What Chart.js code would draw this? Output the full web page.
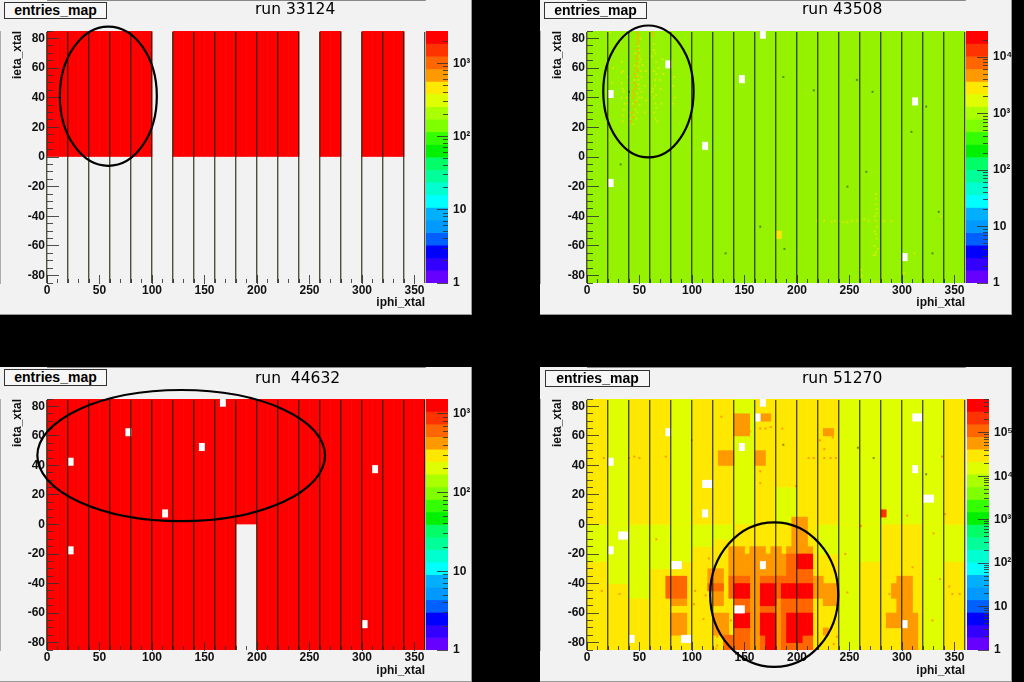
<!DOCTYPE html>
<html>
<head>
<meta charset="utf-8">
<title>entries_map</title>
<script src="https://cdn.jsdelivr.net/npm/chart.js@4/dist/chart.umd.min.js"></script>
<style>
  html, body { margin: 0; background: #000; overflow: hidden; }
  .pad { position: absolute; width: 472px; background: #f2f2f2; box-sizing: border-box; border-right: 1px solid #999; border-bottom: 1px solid #999; }
  .pad canvas { position: absolute; top: 0; }
  .stat { position: absolute; left: 4px; width: 103px; height: 17px; box-sizing: border-box; border: 1px solid #333; background: #f7f7f7;
          font: bold 14px "Liberation Sans", Arial, sans-serif; line-height: 15px; text-align: center; z-index: 3; }
  .runTitle { position: absolute; left: 255px; font: 15.5px "DejaVu Sans", sans-serif; white-space: pre; z-index: 3; }
</style>
</head>
<body>
<div class="pad" style="left:0;top:0;height:315px">
  <canvas id="map33124" width="471" height="314" style="left:0"></canvas>
  <canvas id="pal33124" width="46" height="314" style="left:426px"></canvas>
  <div class="stat" style="top:2px">entries_map</div><div class="runTitle" style="top:0">run 33124</div>
</div>
<div class="pad" style="left:540px;top:0;height:315px">
  <canvas id="map43508" width="471" height="314" style="left:0"></canvas>
  <canvas id="pal43508" width="46" height="314" style="left:426px"></canvas>
  <div class="stat" style="top:2px">entries_map</div><div class="runTitle" style="left:262px;top:0">run 43508</div>
</div>
<div class="pad" style="left:0;top:367px;height:315px">
  <canvas id="map44632" width="471" height="315" style="left:0"></canvas>
  <canvas id="pal44632" width="46" height="315" style="left:426px"></canvas>
  <div class="stat" style="top:2px">entries_map</div><div class="runTitle" style="top:2px">run  44632</div>
</div>
<div class="pad" style="left:540px;top:367px;height:315px">
  <canvas id="map51270" width="471" height="315" style="left:0"></canvas>
  <canvas id="pal51270" width="46" height="315" style="left:427px"></canvas>
  <div class="stat" style="top:3px;left:5px;width:105px">entries_map</div><div class="runTitle" style="left:262px;top:2px">run 51270</div>
</div>
<script>
// axis ticks
const phiTicks = [0, 50, 100, 150, 200, 250, 300, 350];
const phiMinorTicks = [10, 20, 30, 40, 60, 70, 80, 90, 110, 120, 130, 140, 160, 170, 180, 190, 210, 220, 230, 240, 260, 270, 280, 290, 310, 320, 330, 340];
const sectorEdges = [0, 20, 40, 60, 80, 100, 120, 140, 160, 180, 200, 220, 240, 260, 280, 300, 320, 340, 360];
const etaTicks = [-80, -60, -40, -20, 0, 20, 40, 60, 80];
const etaMinorTicks = [-85, -75, -70, -65, -55, -50, -45, -35, -30, -25, -15, -10, -5, 5, 10, 15, 25, 30, 35, 45, 50, 55, 65, 70, 75, 85];
const phiBins = Array.from({ length: 72 }, (_, i) => i * 5);

// colour scale, bottom to top
const paletteColors = ['#6600ff', '#3300ff', '#0000ff', '#0060ff', '#0099ff', '#00b0ff', '#00ffff', '#00ffd0', '#00ff99', '#00ff66',
  '#00f000', '#33ff00', '#80ff00', '#aaff00', '#dfff00', '#ffe800', '#ff9900', '#ff6600', '#ff3300', '#ff0000'];
const zTickValues = [1, 10, 100, 1000, 10000, 100000];
const zTickLabels = ['1', '10', '10²', '10³', '10⁴', '10⁵'];
const zMinorSteps = [2, 3, 4, 5, 6, 7, 8, 9];

// filled areas: [phi from, phi to, eta from, eta to]
const red33124 = [[0, 100, 0, 85], [120, 240, 0, 85], [260, 280, 0, 85], [300, 340, 0, 85]];
const red44632 = [[0, 180, -85, 85], [180, 200, 0, 85], [200, 360, -85, 85]];
const base43508 = [[0, 360, -85, 85]];
const deadTowers = [[20, 25, 40, 45], [75, 80, 60, 65], [165, 170, 80, 85], [145, 150, 50, 55],
  [110, 115, 5, 10], [310, 315, 35, 40], [20, 25, -20, -15], [300, 305, -70, -65]];
const hot43508 = [[180, 185, -55, -50]];

const yellow51270 = [[0, 360, -85, 85]];
const lime51270 = [[20, 40, 0, 85], [80, 100, 0, 85], [140, 160, 0, 85], [240, 340, 0, 85], [180, 200, 0, 25],
  [0, 20, -25, 0], [20, 40, -40, 0], [40, 60, -50, 0], [60, 80, -30, 0], [80, 100, -25, 0], [100, 120, -15, 0], [120, 140, -10, 0],
  [220, 240, -20, 0], [240, 260, -85, 0], [260, 280, -25, 0], [320, 340, -85, 0], [340, 360, -25, 0]];
const orange51270 = [[140, 155, 60, 75], [165, 175, 70, 75], [125, 140, 40, 50], [160, 170, 40, 50], [225, 235, 60, 65],
  [195, 210, -15, 5], [135, 150, -20, -15], [155, 170, -20, -15], [175, 185, -20, -15], [190, 215, -20, -15],
  [135, 200, -35, -20], [155, 165, -85, -35], [180, 185, -85, -35], [215, 225, -50, -35], [225, 240, -55, -40],
  [115, 130, -40, -30], [120, 130, -55, -40], [120, 135, -75, -60], [80, 95, -55, -50], [80, 95, -75, -60],
  [295, 310, -40, -35], [290, 310, -50, -40], [295, 310, -60, -50], [285, 315, -70, -60], [300, 315, -85, -70], [225, 230, -75, -70]];
const darkOrange51270 = [[135, 155, -40, -35], [165, 215, -40, -35], [135, 140, -50, -40], [140, 155, -60, -50], [165, 180, -60, -50],
  [185, 215, -60, -50], [140, 155, -85, -70], [165, 180, -85, -70], [185, 190, -85, -60], [190, 215, -85, -70], [180, 185, -50, -35],
  [190, 200, -35, -20], [200, 215, -35, -30], [75, 95, -50, -35], [115, 130, -45, -40], [130, 140, -85, -75]];
const redOrange51270 = [[280, 285, 5, 10]];
const red51270 = [[200, 215, -30, -20], [140, 155, -50, -40], [165, 180, -55, -40], [185, 215, -50, -40], [140, 155, -70, -60],
  [165, 180, -75, -60], [190, 215, -75, -60], [170, 180, -85, -75], [190, 205, -80, -75]];
const deadTowers51270 = [[110, 120, 25, 30], [30, 40, -10, -5], [80, 90, -30, -25], [310, 320, 70, 75], [320, 330, 15, 20],
  [140, 150, -60, -55], [165, 170, -30, -25], [160, 165, 70, 75], [40, 45, -80, -75], [90, 100, -80, -75]];

// single crystals: [phi, eta]
const orangeDots43508 = [[48, 84], [49, 82], [48, 80], [49, 78], [48, 76], [48, 73], [49, 70], [47, 68], [48, 66], [47, 63], [47, 60], [48, 58],
  [46, 56], [47, 54], [45, 50], [47, 48], [46, 46], [44, 44], [45, 42], [44, 40], [46, 37], [45, 34], [43, 30], [44, 27], [42, 24], [62, 84], [63, 82]];
const yellowDots43508 = [[50, 72], [50, 64], [51, 58], [49, 52], [50, 46], [49, 40], [50, 35], [48, 30], [47, 26], [52, 44], [53, 62], [64, 76], [65, 70],
  [66, 64], [64, 58], [65, 52], [63, 46], [66, 42], [65, 36], [64, 30], [67, 24], [33, 64], [34, 58], [33, 50], [35, 44], [36, 36], [34, 28], [39, 54],
  [38, 40], [40, 30], [40, 22], [55, 48], [56, 38], [72, 66], [70, 46], [82, 48], [84, 40], [22, 84], [25, 60],
  [49, 75], [50, 68], [49, 61], [48, 55], [49, 49], [48, 43], [47, 38], [46, 32], [45, 28], [44, 22], [46, 70], [46, 62], [45, 52], [44, 36],
  [51, 80], [51, 66], [52, 54], [52, 40], [64, 72], [66, 56], [65, 48], [64, 40], [66, 33], [65, 26], [62, 68], [62, 44], [68, 60], [69, 52],
  [33, 57], [34, 46], [33, 40], [35, 32], [34, 24], [40, 50], [39, 36], [41, 26], [56, 58], [55, 30], [73, 56], [71, 36], [83, 54], [82, 36], [24, 50],
  [275, -25], [275, -32], [276, -38], [275, -43], [274, -50], [276, -55], [275, -64], [275, -66], [261, -76], [275, -84], [272, -84], [278, -84],
  [219, -43], [226, -43], [233, -44], [240, -43], [248, -44], [252, -43], [257, -43], [264, -42], [283, -43], [290, -43], [312, -65], [302, -78], [337, -40],
  [275, -28], [276, -35], [274, -40], [276, -47], [275, -52], [274, -60], [277, -62], [273, -66], [262, -80], [260, -84], [244, -44], [236, -43], [268, -43]];
const darkDots43508 = [[266, -10], [165, -47], [188, -62], [335, -37], [329, -65], [248, -20], [187, 54], [323, 34], [309, 17], [132, -65], [32, -5], [216, 45], [257, 52], [272, 44], [40, 44]];
const orangeDots51270 = [[16, 45], [40, 45], [45, 46], [50, 45], [75, 46], [100, 57], [128, 73], [147, 65], [155, 63], [160, 42], [165, 36], [165, 65], [170, 65], [175, 66], [165, 28],
  [186, 65], [211, 45], [216, 45], [226, 45], [232, 45], [237, 45], [226, 51], [222, 57], [234, 59], [338, 46], [305, 6], [341, 7], [199, 26],
  [14, -45], [31, -47], [103, -45], [113, -48], [102, -54], [111, -64], [124, -76], [124, -82], [123, -84], [137, -65], [116, -23], [66, -10],
  [246, -20], [336, -37], [345, -42], [348, -47], [355, -47], [288, -47], [330, -6], [261, -1], [329, -65], [238, -76], [235, -81], [310, -29], [248, -46]];
const darkDots51270 = [[187, 54], [258, 52], [273, 45], [323, 34]];

// hand-drawn circles: [phi centre, eta centre, phi radius, eta radius]
const circle33124 = [58.4, 41, 46.2, 47];
const circle43508 = [58.5, 44.2, 43, 44.5];
const circle44632 = [127.8, 46.7, 137, 44.4];
const circle51270 = [178.3, -47.5, 61, 48.9];

// top of the colour scale per run
const zMax33124 = 2750;
const zMax43508 = 29000;
const zMax44632 = 1550;
const zMax51270 = 600000;

const labelFont = { family: '"Liberation Sans", "DejaVu Sans", sans-serif', size: 12, weight: 'bold' };
const tickColor = 'rgba(50,50,50,0.85)';
const sectorColor = 'rgba(25,25,0,0.75)';

const noteCircle = {
  id: 'noteCircle',
  afterDraw(chart, args, opts) {
    const { ctx, scales } = chart;
    const [phi, eta, rPhi, rEta] = opts.shape;
    const cx = scales.x.getPixelForValue(phi);
    const cy = scales.y.getPixelForValue(eta);
    ctx.save();
    ctx.beginPath();
    ctx.ellipse(cx, cy, Math.abs(scales.x.getPixelForValue(phi + rPhi) - cx), Math.abs(scales.y.getPixelForValue(eta + rEta) - cy), 0, 0, 2 * Math.PI);
    ctx.lineWidth = 2.2;
    ctx.strokeStyle = '#000';
    ctx.stroke();
    ctx.restore();
  }
};

function cellsFrom(rects) {
  const out = [];
  rects.forEach(([p0, p1, e0, e1]) => {
    for (let p = p0; p < p1; p += 5) out.push({ x: p, y: [e0, e1] });
  });
  return out;
}

function cellSet(rects, color) {
  return { type: 'bar', xAxisID: 'col', yAxisID: 'y', data: cellsFrom(rects), backgroundColor: color, grouped: false, barPercentage: 1, categoryPercentage: 1 };
}

function dotSet(points, color) {
  return { type: 'scatter', xAxisID: 'x', yAxisID: 'y', data: points.map(([x, y]) => ({ x, y })), backgroundColor: color, pointStyle: 'rect', pointRadius: 1.4, borderWidth: 0 };
}

function fixedTicks(values) {
  return axis => { axis.ticks = values.map(value => ({ value })); };
}

function markAxis(position, values, length, extra) {
  return Object.assign({
    type: 'linear', position, min: position === 'left' ? -85 : 0, max: position === 'left' ? 85 : 360, offset: false,
    afterBuildTicks: fixedTicks(values),
    afterFit: axis => { if (position === 'left') axis.width = 0; else axis.height = 0; },
    ticks: { display: false },
    border: { display: false },
    grid: { z: 1, offset: false, drawOnChartArea: false, tickLength: -length, tickColor, tickWidth: 1 }
  }, extra);
}

function mapChart(id, layers, circle) {
  const canvas = document.getElementById(id);
  const datasets = layers.slice().reverse();
  return new Chart(canvas, {
    type: 'bar',
    data: { labels: phiBins, datasets },
    plugins: [noteCircle],
    options: {
      responsive: false,
      animation: false,
      events: [],
      layout: { padding: { top: canvas.height === 314 ? 31 : 32, right: 46, bottom: 0, left: 0 } },
      plugins: { legend: { display: false }, tooltip: { enabled: false }, noteCircle: { shape: circle } },
      scales: {
        col: { type: 'category', labels: phiBins, display: false, offset: true, position: 'bottom' },
        x: {
          type: 'linear', position: 'bottom', min: 0, max: 360, weight: 1, offset: false,
          afterBuildTicks: fixedTicks(phiTicks),
          afterFit: axis => { axis.height = canvas.height === 314 ? 31 : 32; },
          ticks: { color: '#111', font: labelFont, padding: 8, maxRotation: 0, autoSkip: false, callback: v => String(v) },
          border: { display: true, color: '#666' },
          grid: { z: 1, offset: false, drawOnChartArea: false, tickLength: -8, tickColor, tickWidth: 1 },
          title: { display: true, text: 'iphi_xtal', align: 'end', color: '#111', font: labelFont, padding: { top: 0, bottom: 4 } }
        },
        xMinor: markAxis('bottom', phiMinorTicks, 4, { weight: -1 }),
        sector: {
          type: 'linear', position: 'top', min: 0, max: 360, offset: false,
          afterBuildTicks: fixedTicks(sectorEdges),
          afterFit: axis => { axis.height = 0; },
          ticks: { display: false },
          border: { display: true, color: '#666' },
          grid: { z: 1, offset: false, color: sectorColor, lineWidth: 1.4, drawTicks: false }
        },
        y: {
          type: 'linear', position: 'left', min: -85, max: 85, weight: 1,
          afterBuildTicks: fixedTicks(etaTicks),
          afterFit: axis => { axis.width = 47; },
          ticks: { color: '#111', font: labelFont, padding: 14, autoSkip: false, callback: v => String(v) },
          border: { display: true, color: '#666' },
          grid: { z: 1, drawOnChartArea: false, tickLength: -12, tickColor, tickWidth: 1 },
          title: { display: true, text: 'ieta_xtal', align: 'end', color: '#111', font: labelFont, padding: { top: 10, bottom: 0 } }
        },
        yMinor: markAxis('left', etaMinorTicks, 6, { weight: 0 })
      }
    }
  });
}

function paletteChart(id, zMax) {
  const canvas = document.getElementById(id);
  const inset = canvas.height === 314 ? 31 : 32;
  const zTicks = zTickValues.filter(v => v <= zMax);
  const zMinor = [];
  zTicks.forEach(v => zMinorSteps.forEach(s => { if (v * s <= zMax) zMinor.push(v * s); }));
  const zAxis = (values, length, extra) => Object.assign({
    type: 'logarithmic', position: 'right', min: 1, max: zMax,
    afterBuildTicks: fixedTicks(values),
    border: { display: false },
    grid: { z: 1, drawOnChartArea: false, tickLength: -length, tickColor, tickWidth: 1 }
  }, extra);
  return new Chart(canvas, {
    type: 'bar',
    data: {
      labels: ['z'],
      datasets: [{
        xAxisID: 'band', yAxisID: 'level',
        data: paletteColors.map((c, i) => ({ x: 'z', y: [i, i + 1] })),
        backgroundColor: paletteColors,
        grouped: false, barPercentage: 1, categoryPercentage: 1
      }]
    },
    options: {
      responsive: false,
      animation: false,
      events: [],
      layout: { padding: { top: inset, bottom: inset, left: 0, right: 0 } },
      plugins: { legend: { display: false }, tooltip: { enabled: false } },
      scales: {
        band: { type: 'category', labels: ['z'], display: false, offset: true },
        level: { type: 'linear', min: 0, max: paletteColors.length, display: false },
        z: zAxis(zTicks, 11, {
          weight: 1,
          afterFit: axis => { axis.width = 24; },
          ticks: { color: '#111', font: labelFont, padding: 16, autoSkip: false, crossAlign: 'near',
            callback: v => zTickLabels[zTickValues.indexOf(v)] }
        }),
        zMinor: zAxis(zMinor, 5, {
          weight: 0,
          afterFit: axis => { axis.width = 0; },
          ticks: { display: false }
        })
      }
    }
  });
}

const level = i => paletteColors[i];

mapChart('map33124', [cellSet(red33124, level(19))], circle33124);
paletteChart('pal33124', zMax33124);

mapChart('map43508', [
  cellSet(base43508, '#95f200'),
  dotSet(yellowDots43508, '#cfee00'),
  dotSet(orangeDots43508, '#ffb000'),
  dotSet(darkDots43508, '#4f8f00'),
  cellSet(hot43508, level(15)),
  cellSet(deadTowers, '#ffffff')
], circle43508);
paletteChart('pal43508', zMax43508);

mapChart('map44632', [cellSet(red44632, level(19)), cellSet(deadTowers, '#ffffff')], circle44632);
paletteChart('pal44632', zMax44632);

mapChart('map51270', [
  cellSet(yellow51270, level(15)),
  cellSet(lime51270, level(14)),
  cellSet(orange51270, level(16)),
  cellSet(darkOrange51270, level(17)),
  cellSet(redOrange51270, level(18)),
  cellSet(red51270, level(19)),
  dotSet(orangeDots51270, level(16)),
  dotSet(darkDots51270, '#8a8a00'),
  cellSet(deadTowers, '#ffffff'),
  cellSet(deadTowers51270, '#ffffff')
], circle51270);
paletteChart('pal51270', zMax51270);
</script>
</body>
</html>
